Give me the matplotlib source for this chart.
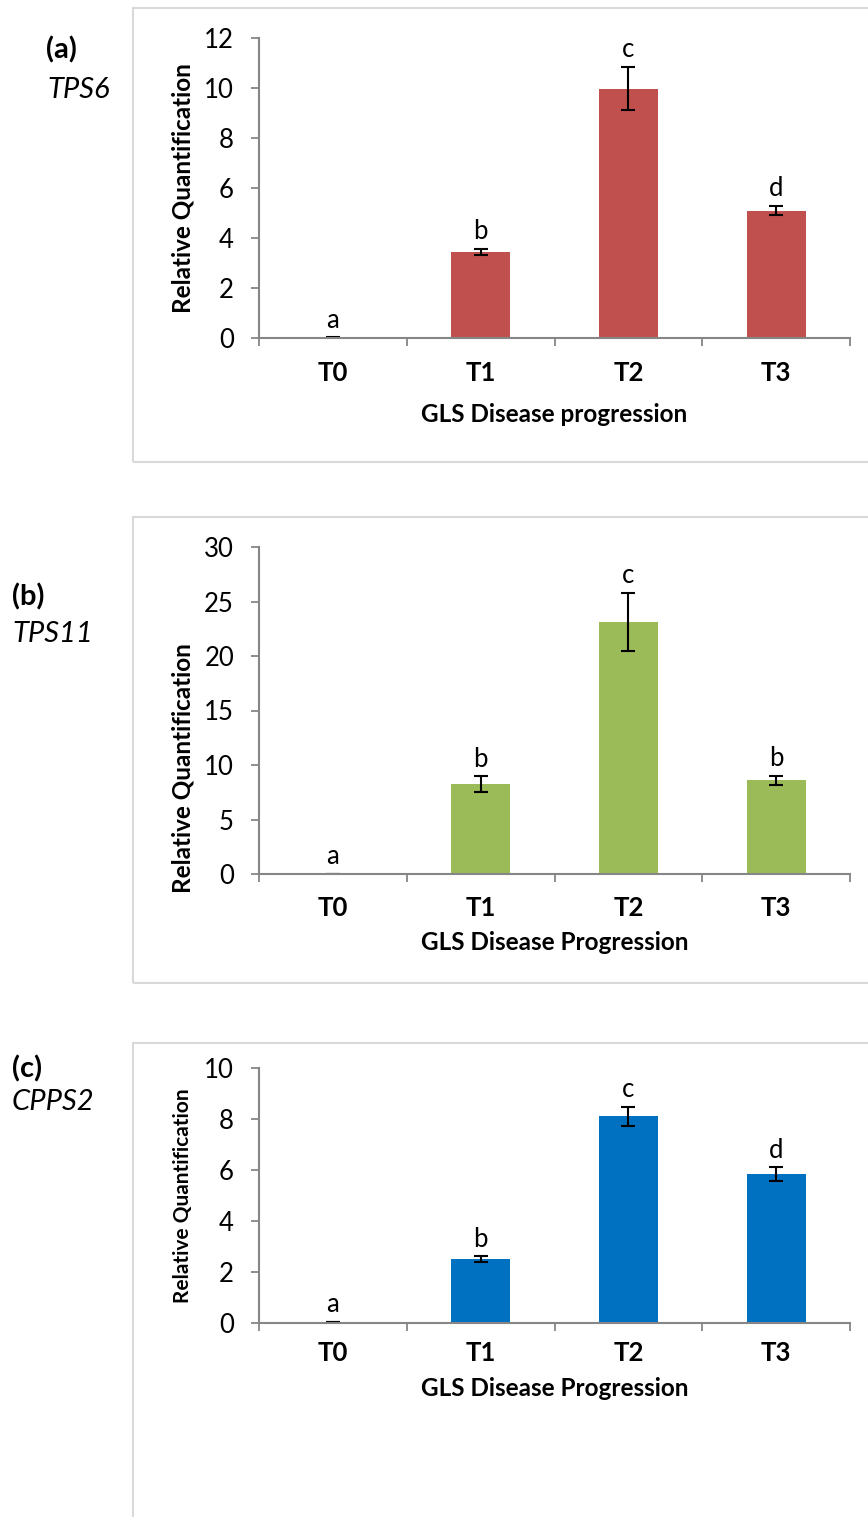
import matplotlib
matplotlib.use('Agg')
import matplotlib.pyplot as plt
from matplotlib.patches import Rectangle

plt.rcParams['font.family'] = ['Lato', 'DejaVu Sans']

# data
categories = ['T0', 'T1', 'T2', 'T3']

tps6_mean = [0.02, 3.44, 9.97, 5.10]
tps6_err = [0.01, 0.12, 0.87, 0.18]
tps6_letters = ['a', 'b', 'c', 'd']

tps11_mean = [0.03, 8.23, 23.1, 8.60]
tps11_err = [0.01, 0.74, 2.67, 0.42]
tps11_letters = ['a', 'b', 'c', 'b']

cpps2_mean = [0.03, 2.51, 8.10, 5.83]
cpps2_err = [0.01, 0.10, 0.39, 0.27]
cpps2_letters = ['a', 'b', 'c', 'd']

W, H = 868, 1517
fig = plt.figure(figsize=(W / 100, H / 100), dpi=100)
AX_GRAY = '#868686'


def px_axes(left, top, right, bottom):
    # pixel box -> figure fraction
    return fig.add_axes([left / W, 1 - bottom / H, (right - left) / W, (bottom - top) / H])


def panel(ax, means, errs, letters, color, ymax, ystep, xlabel,
          ylabel_size=17.5, ylabel_y=0.5, xlab_off=75, tick_off=35):
    x = list(range(len(categories)))
    ax.bar(x, means, width=0.4, color=color, zorder=2)
    ax.errorbar(x, means, yerr=errs, fmt='none', ecolor='black',
                elinewidth=1.5, capsize=5, capthick=1.5, zorder=3)
    for xi, m, e, lab in zip(x, means, errs, letters):
        ax.annotate(lab, (xi, m + e), xytext=(0, 7), textcoords='offset points',
                    ha='center', va='baseline', fontsize=18.5)

    ax.set_xlim(-0.5, len(categories) - 0.5)
    ax.set_ylim(0, ymax)
    ax.set_yticks(range(0, ymax + 1, ystep))
    ax.set_xticks(x)
    ax.set_xticklabels(categories, fontsize=18.5, fontweight='bold')
    ax.set_xticks([i - 0.5 for i in range(len(categories) + 1)], minor=True)
    # tick label centre sits roughly tick_off px under the axis
    ax.tick_params(axis='x', which='major', length=0, pad=(tick_off - 12) * 0.72)
    ax.tick_params(axis='x', which='minor', length=6, width=1.3, color=AX_GRAY, direction='out')
    ax.tick_params(axis='y', length=6, width=1.3, color=AX_GRAY, pad=12, labelsize=18.5)

    for s in ['top', 'right']:
        ax.spines[s].set_visible(False)
    for s in ['left', 'bottom']:
        ax.spines[s].set_color(AX_GRAY)
        ax.spines[s].set_linewidth(1.5)
        ax.spines[s].set_zorder(4)

    ax.set_ylabel('Relative Quantification', fontsize=ylabel_size, fontweight='bold')
    ax.yaxis.set_label_coords(-0.128, ylabel_y)
    ax.yaxis.label.set_va('center')
    ax.set_xlabel(xlabel, fontsize=17.5, fontweight='bold')
    bbox = ax.get_position()
    ax.xaxis.set_label_coords(0.5, -(xlab_off + 1) / (bbox.height * H))
    ax.xaxis.label.set_va('center')


# outer frames of the three panels
for top, bottom in [(8, 462), (517, 983), (1043, 1530)]:
    fig.patches.append(Rectangle((133 / W, 1 - bottom / H), 1.0, (bottom - top) / H,
                                 transform=fig.transFigure, fill=False,
                                 edgecolor='#D9D9D9', linewidth=1.5, clip_on=False))

ax1 = px_axes(259, 38, 850, 338)
panel(ax1, tps6_mean, tps6_err, tps6_letters, '#C0504D', 12, 2,
      'GLS Disease progression', xlab_off=75, tick_off=35)

ax2 = px_axes(259, 547, 850, 874)
panel(ax2, tps11_mean, tps11_err, tps11_letters, '#9BBB59', 30, 5,
      'GLS Disease Progression', ylabel_y=0.325, xlab_off=68, tick_off=34)

ax3 = px_axes(259, 1068, 850, 1323)
panel(ax3, cpps2_mean, cpps2_err, cpps2_letters, '#0070C0', 10, 2,
      'GLS Disease Progression', ylabel_size=15, xlab_off=64, tick_off=30)

# panel tags
fig.text(46 / W, 1 - 50 / H, '(a)', fontsize=21, fontweight='bold', va='center')
fig.text(47 / W, 1 - 90 / H, 'TPS6', fontsize=21, style='italic', va='center')
fig.text(12 / W, 1 - 597 / H, '(b)', fontsize=21, fontweight='bold', va='center')
fig.text(12 / W, 1 - 634 / H, 'TPS11', fontsize=21, style='italic', va='center')
fig.text(12 / W, 1 - 1069 / H, '(c)', fontsize=21, fontweight='bold', va='center')
fig.text(12 / W, 1 - 1102 / H, 'CPPS2', fontsize=21, style='italic', va='center')

fig.savefig('out.png', dpi=100)
